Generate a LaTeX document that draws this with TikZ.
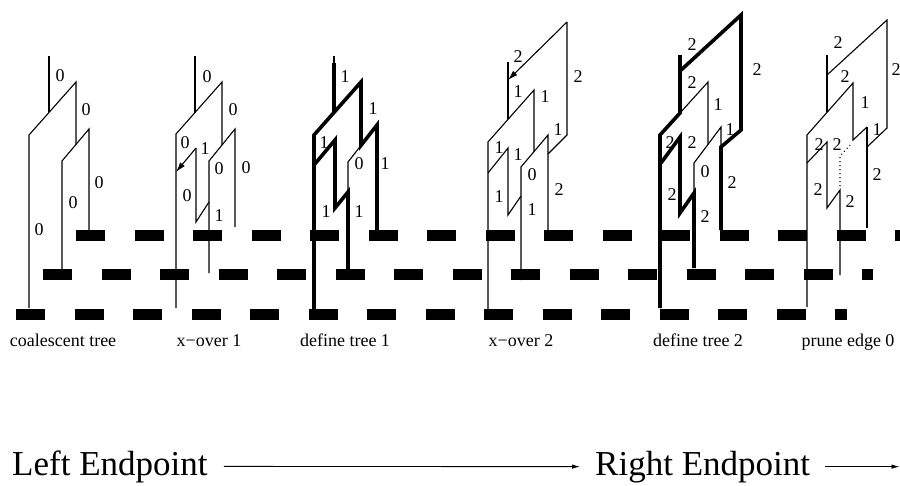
\documentclass[tikz,border=0pt]{standalone}
\usepackage{fontspec}
\setmainfont{Liberation Serif}
\usetikzlibrary{arrows.meta}

\begin{document}
\begin{tikzpicture}[x=1pt,y=-1pt,
  branch/.style={line width=1.1pt},
  bold/.style={line width=3.6pt},
  lost/.style={line width=1.1pt,dash pattern=on 1pt off 3pt},
  lab/.style={font=\fontsize{18}{18}\selectfont,inner sep=0pt},
  title/.style={font=\fontsize{18}{18}\selectfont,anchor=base,inner sep=0pt},
  big/.style={font=\fontsize{35}{35}\selectfont,anchor=base west,inner xsep=0pt},
  xover/.style={branch,-{Latex[length=10pt,width=6pt]}}]
\useasboundingbox (0,0) rectangle (900,485);

% loci (three rows of segments)
\foreach \y/\s/\n in {230/76/14,269/43/13,308.5/16/13}
  \foreach \k in {0,...,\n} \fill (\s+\k*58.5,\y) rectangle ++(29,11);
\fill (862,269) rectangle ++(11,11);
\fill (835,308.5) rectangle ++(12,11);

% coalescent tree
\draw[branch] (29,308) -- (29,135) -- (76,82) -- (76,144.4);
\draw[branch] (49,56) -- (49,112.4);
\draw[branch] (62,269) -- (62,161) -- (89,129) -- (89,230);
\foreach \x/\y/\t [count=\k] in {60/76/0,86/110/0,99/183/0,73/203/0,39/230/0}
  \node[lab] (a\k) at (\x,\y) {\t};

% x-over 1
\draw[branch] (176,308) -- (176,134) -- (222,82) -- (222,145);
\draw[branch] (195,56) -- (195,112.5);
\draw[branch] (209,273) -- (209,161) -- (235,129) -- (235,227);
\draw[branch] (196,148) -- (196,222) -- (209,202);
\draw[xover] (196,148) -- (176,172);
\foreach \x/\y/\t [count=\k] in {207/77/0,233/110/0,185/143/0,205/149/1,219/169/0,246/168/0,187/196/0,219/216/1}
  \node[lab] (b\k) at (\x,\y) {\t};

% define tree 1
\draw[branch] (334,56) -- (334,112);
\draw[branch] (348,192) -- (348,162) -- (361,145.4);
\draw[bold] (314,310) -- (314,135) -- (361,82) -- (361,145.4) -- (377,125) -- (377,230);
\draw[bold] (334,63) -- (334,112.4);
\draw[bold] (314,165) -- (335,140) -- (335,208) -- (348,192) -- (348,270);
\foreach \x/\y/\t [count=\k] in {345/77/1,373/109/1,324/143/1,359/164/0,385/164/1,326/212/1,359/212/1}
  \node[lab] (c\k) at (\x,\y) {\t};

% x-over 2
\draw[branch] (488,316) -- (488,142) -- (534,90) -- (534,151.6);
\draw[branch] (508,62) -- (508,119.4);
\draw[branch] (521,280) -- (521,167) -- (548,135) -- (548,230);
\draw[branch] (488,173) -- (508,148) -- (508,215) -- (521,196);
\draw[branch] (548,154) -- (567,135) -- (567,22);
\draw[xover] (567,22) -- (508,80);
\foreach \x/\y/\t [count=\k] in {518/57/2,578/77/2,518/92/1,545/97/1,558/130/1,499/148/1,518/155/1,532/175/0,559/190/2,499/197/1,532/210/1}
  \node[lab] (d\k) at (\x,\y) {\t};

% define tree 2
\draw[branch] (680,113) -- (708,82) -- (708,144.3);
\draw[branch] (694,193) -- (694,163) -- (721,127) -- (721,147);
\draw[bold] (680,71) -- (741,15) -- (741,130) -- (721,147) -- (721,230);
\draw[bold] (680,55) -- (680,113) -- (660,135) -- (660,308);
\draw[bold] (661,163) -- (680,137) -- (680,213) -- (694,193) -- (694,268);
\foreach \x/\y/\t [count=\k] in {692/45/2,757/70/2,692/83/2,718/105/1,730/130/1,670/143/2,692/143/2,705/172/0,732/183/2,672/195/2,705/217/2}
  \node[lab] (e\k) at (\x,\y) {\t};

% prune edge 0
\draw[branch] (807,307) -- (807,135) -- (853,83) -- (853,140) -- (867,127);
\draw[branch] (827,55) -- (827,112);
\draw[branch] (827,75) -- (887,20) -- (887,128) -- (867,147);
\draw[branch] (867,127) -- (867,228);
\draw[branch] (807,163) -- (827,142) -- (827,208) -- (840,190) -- (840,275);
\draw[lost] (840,186) -- (840,156) -- (850,145);
\foreach \x/\y/\t [count=\k] in {838/43/2,896/70/2,845/77/2,865/103/1,877/130/1,819/145/2,837/145/2,877/175/2,818/190/2,850/202/2}
  \node[lab] (f\k) at (\x,\y) {\t};

% captions
\foreach \x/\t [count=\k] in {63/coalescent tree,209/x−over 1,345/define tree 1,521/x−over 2,698/define tree 2,848/prune edge 0}
  \node[title] (t\k) at (\x,346) {\t};

% direction of the sweep
\node[big] (le) at (12,475) {Left Endpoint};
\node[big] (re) at (595,475) {Right Endpoint};
\coordinate (rim) at (899.5,0);
\draw[line width=0.9pt,-{Latex[length=8pt,width=4.5pt]},shorten <=16pt,shorten >=15pt] (le.east) -- (re.west);
\draw[line width=0.9pt,-{Latex[length=8pt,width=4.5pt]},shorten <=15pt] (re.east) -- (re.east -| rim);
\end{tikzpicture}
\end{document}
